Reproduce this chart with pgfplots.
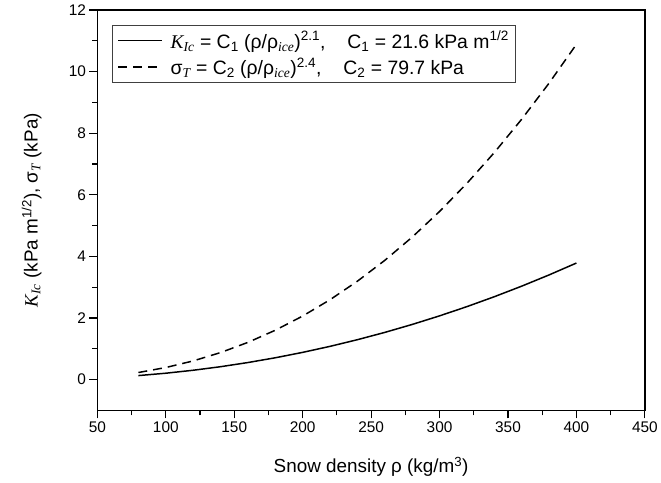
\documentclass[border=0pt]{standalone}
\usepackage{pgfplots}
\pgfplotsset{compat=1.18}
\usepackage{fontspec}
\setmainfont{Liberation Sans}
\newfontfamily\tnr{Liberation Serif}
\newcommand{\iti}[1]{{\tnr\itshape #1}}
\begin{document}
\begin{tikzpicture}
\begin{axis}[
  name=ax,
  scale only axis,
  width=551pt, height=403pt,
  xmin=50, xmax=450, ymin=-1, ymax=12,
  xtick={50,100,...,450}, ytick={0,2,...,12},
  minor tick num=1,
  tick pos=left,
  tick align=outside,
  major tick length=8pt, minor tick length=5pt,
  axis line style={line width=1.4pt},
  every tick/.style={line width=1.2pt, black},
  /pgf/number format/assume math mode=true,
  ticklabel style={font=\fontsize{15.5}{17}\selectfont},
  xlabel={Snow density ρ (kg/m\textsuperscript{3})},
  ylabel={\iti{K}\textsubscript{\iti{Ic}} (kPa m\textsuperscript{1/2}), σ\textsubscript{\iti{T}} (kPa)},
  label style={font=\fontsize{19}{22}\selectfont},
  xlabel style={at={(axis description cs:0.5,-0.1414)}, anchor=center},
  ylabel style={at={(axis description cs:-0.12,0.5)}, anchor=center},
  legend cell align=left,
  legend style={at={(0.027,0.963)}, anchor=north west, draw=black!75, line width=0.9pt,
    font=\fontsize{19.5}{24}\selectfont, inner xsep=5pt, inner ysep=4pt, row sep=4pt},
  legend image code/.code={\draw[#1] (0pt,0pt) -- (44pt,0pt);},
]
\addplot[black, line width=1.5pt] coordinates {
(80,0.1288) (100,0.2058) (120,0.3018) (140,0.4172) (160,0.5523) (180,0.7072)
(200,0.8824) (220,1.0779) (240,1.2940) (260,1.5308) (280,1.7886) (300,2.0675)
(320,2.3675) (340,2.6890) (360,3.0318) (380,3.3964) (400,3.7826)};
\addlegendentry{\hspace{6pt}\iti{K}\textsubscript{\iti{Ic}} = C\textsubscript{1} (ρ/ρ\textsubscript{\iti{ice}})\textsuperscript{2.1},\hspace{22pt}C\textsubscript{1} = 21.6 kPa m\textsuperscript{1/2}}
\addplot[black, line width=1.5pt, dash pattern=on 9pt off 6pt] coordinates {
(80,0.2287) (100,0.3906) (120,0.6051) (140,0.8760) (160,1.2069) (180,1.6011)
(200,2.0619) (220,2.5918) (240,3.1935) (260,3.8702) (280,4.6237) (300,5.4561)
(320,6.3702) (340,7.3682) (360,8.4508) (380,9.6216) (400,10.883)};
\addlegendentry{\hspace{6pt}σ\textsubscript{\iti{T}} = C\textsubscript{2} (ρ/ρ\textsubscript{\iti{ice}})\textsuperscript{2.4},\hspace{22pt}C\textsubscript{2} = 79.7 kPa}
\end{axis}
\path ([xshift=-98pt,yshift=-73pt]ax.south west) rectangle ([xshift=12pt,yshift=10pt]ax.north east);
\end{tikzpicture}
\end{document}
